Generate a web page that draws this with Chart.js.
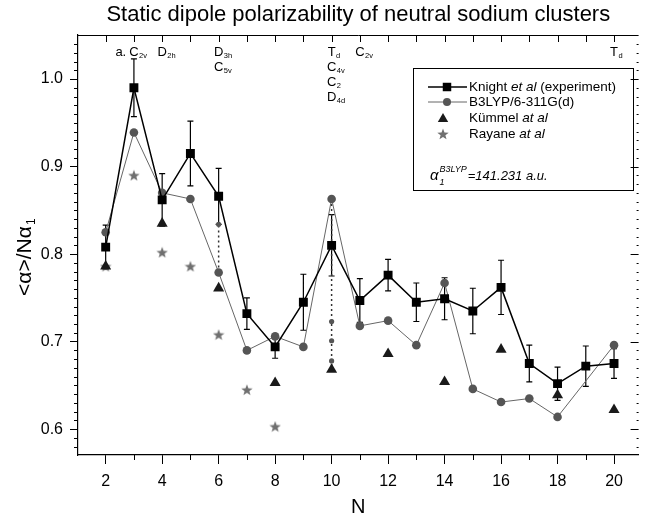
<!DOCTYPE html>
<html>
<head>
<meta charset="utf-8">
<title>Static dipole polarizability of neutral sodium clusters</title>
<script src="https://cdn.jsdelivr.net/npm/chart.js@4.4.1/dist/chart.umd.min.js"></script>
<style>
  html, body { margin: 0; padding: 0; background: #fff; }
</style>
</head>
<body>
<canvas id="polarCtx" width="645" height="520"></canvas>
<script>
// cluster sizes N
const sizes = [2, 3, 4, 5, 6, 7, 8, 9, 10, 11, 12, 13, 14, 15, 16, 17, 18, 19, 20];
// Knight et al (experiment) with error bars
const knight = [0.808, 0.990, 0.862, 0.915, 0.866, 0.732, 0.694, 0.745, 0.810, 0.747,
                0.776, 0.745, 0.749, 0.735, 0.762, 0.675, 0.652, 0.672, 0.675];
const knightErr = [0.025, 0.033, 0.030, 0.037, 0.032, 0.018, 0.013, 0.032, 0.035, 0.025,
                   0.018, 0.022, 0.024, 0.026, 0.031, 0.021, 0.019, 0.023, 0.017];
// B3LYP/6-311G(d), no value for N=19
const b3lyp = [0.825, 0.939, 0.870, 0.863, 0.779, 0.690, 0.706, 0.694, 0.863, 0.718,
               0.724, 0.696, 0.767, 0.646, 0.631, 0.635, 0.614, null, 0.696];
// Kümmel at al
const kummelN = [2, 4, 6, 8, 10, 12, 14, 16, 18, 20];
const kummel = [0.786, 0.835, 0.761, 0.653, 0.668, 0.686, 0.654, 0.691, 0.639, 0.622];
// Rayane at al
const rayaneN = [2, 3, 4, 5, 6, 7, 8];
const rayane = [0.786, 0.890, 0.802, 0.786, 0.708, 0.645, 0.603];
// other isomers (small dots on the dotted lines)
const isomerN = [6, 10, 10, 10];
const isomer = [0.834, 0.723, 0.701, 0.678];
// point group labels at the top
const symN = [3, 4, 6, 10, 11, 20];
const symText = [
    [["C", "2v"]],
    [["D", "2h"]],
    [["D", "3h"], ["C", "5v"]],
    [["T", "d"], ["C", "4v"], ["C", "2"], ["D", "4d"]],
    [["C", "2v"]],
    [["T", "d"]]
];
// tick labels
const xTicks = [2, 4, 6, 8, 10, 12, 14, 16, 18, 20];
const yTicks = [0.6, 0.7, 0.8, 0.9, 1.0];

const FONT = "'Liberation Sans', Arial, Helvetica, sans-serif";
const TITLE = "Static dipole polarizability of neutral sodium clusters";

function pts(xs, ys) {
    return xs.map((n, i) => ({ x: n, y: ys[i] })).filter(p => p.y !== null);
}

// filled grey star used as point style
function makeStar(size, color) {
    const c = document.createElement("canvas");
    c.width = size; c.height = size;
    const g = c.getContext("2d");
    const cx = size / 2, cy = size / 2 + 0.5, ro = size / 2, ri = ro * 0.42;
    g.beginPath();
    for (let k = 0; k < 10; k++) {
        const r = k % 2 ? ri : ro;
        const a = -Math.PI / 2 + k * Math.PI / 5;
        g.lineTo(cx + r * Math.cos(a), cy + r * Math.sin(a));
    }
    g.closePath();
    g.fillStyle = color;
    g.fill();
    return c;
}
const starImg = makeStar(12, "#707070");

/// error bars for the experiment, drawn below the markers
const errorBars = {
    id: "errorBars",
    beforeDatasetsDraw(chart) {
        const { ctx, scales: { x, y } } = chart;
        ctx.save();
        ctx.strokeStyle = "#000";
        ctx.lineWidth = 1.2;
        ctx.beginPath();
        sizes.forEach((n, i) => {
            const px = x.getPixelForValue(n);
            const t = y.getPixelForValue(knight[i] + knightErr[i]);
            const b = y.getPixelForValue(knight[i] - knightErr[i]);
            ctx.moveTo(px, t); ctx.lineTo(px, b);
            ctx.moveTo(px - 3, t); ctx.lineTo(px + 3, t);
            ctx.moveTo(px - 3, b); ctx.lineTo(px + 3, b);
        });
        ctx.stroke();
        ctx.restore();
    }
};

function subText(ctx, x, y, main, sub, mainFont, subFont, drop) {
    ctx.font = mainFont;
    ctx.fillText(main, x, y);
    const w = ctx.measureText(main).width;
    ctx.font = subFont;
    ctx.fillText(sub, x + w + 0.5, y + drop);
}

/// frame: title, y title, top axis, right ticks, minor ticks, point group labels, legend
const decorations = {
    id: "decorations",
    afterDraw(chart) {
        const { ctx, chartArea: a, scales: { x, y } } = chart;
        ctx.save();

        // title, centred over the plot area
        ctx.fillStyle = "#000";
        ctx.textAlign = "center";
        ctx.textBaseline = "middle";
        ctx.font = "22px " + FONT;
        ctx.fillText(TITLE, (a.left + a.right) / 2, 15);

        // y axis title with a real subscript
        ctx.save();
        ctx.translate(24, (a.top + a.bottom) / 2 + 12);
        ctx.rotate(-Math.PI / 2);
        ctx.textAlign = "left";
        ctx.textBaseline = "alphabetic";
        ctx.font = "21px " + FONT;
        const yt = "<α>/Nα";
        const yw = ctx.measureText(yt).width;
        ctx.fillText(yt, -yw / 2 - 4, 7);
        ctx.font = "12px " + FONT;
        ctx.fillText("1", yw / 2 - 3, 11);
        ctx.restore();

        ctx.textAlign = "left";
        ctx.strokeStyle = "#000";
        ctx.lineWidth = 1;
        ctx.beginPath();
        ctx.moveTo(a.left, a.top + 0.5); ctx.lineTo(a.right, a.top + 0.5);
        for (let n = 2; n <= 20; n++) {
            const px = Math.round(x.getPixelForValue(n)) + 0.5;
            ctx.moveTo(px, a.top); ctx.lineTo(px, a.top + 7);
            if (n % 2) { ctx.moveTo(px, a.bottom); ctx.lineTo(px, a.bottom + 5); }
        }
        for (let k = 58; k <= 104; k++) {
            const py = Math.round(y.getPixelForValue(k / 100)) + 0.5;
            const major = k % 10 === 0;
            if (!major) { ctx.moveTo(a.left - 4, py); ctx.lineTo(a.left, py); }
            ctx.moveTo(a.right, py); ctx.lineTo(a.right - (major ? 8 : 2), py);
        }
        ctx.stroke();

        // point group labels
        ctx.fillStyle = "#000";
        ctx.textBaseline = "alphabetic";
        symN.forEach((n, i) => {
            const px = x.getPixelForValue(n);
            symText[i].forEach((lab, r) => {
                const by = 56 + r * 15;
                ctx.font = "13px " + FONT;
                const w = ctx.measureText(lab[0]).width;
                const lx = px - w / 2;
                subText(ctx, lx, by, lab[0], lab[1], "13px " + FONT, "7.5px " + FONT, 2);
                if (i === 0 && r === 0) {
                    ctx.font = "13px " + FONT;
                    ctx.textAlign = "right";
                    ctx.fillText("a.", lx - 3, by);
                    ctx.textAlign = "left";
                }
            });
        });

        // legend
        const bx = 413, bt = 68, bw = 220, bh = 122;
        ctx.lineWidth = 1;
        ctx.strokeRect(bx + 0.5, bt + 0.5, bw, bh);
        const rows = [87, 102, 118, 134];
        const mx = 447, tx = 469;
        const draw = Chart.helpers.drawPoint;
        // Knight
        ctx.strokeStyle = "#000"; ctx.lineWidth = 1.5;
        ctx.beginPath(); ctx.moveTo(428, rows[0]); ctx.lineTo(467, rows[0]); ctx.stroke();
        ctx.fillStyle = "#000";
        draw(ctx, { pointStyle: "rect", radius: 6, borderWidth: 0, rotation: 0 }, mx, rows[0]);
        // B3LYP
        ctx.strokeStyle = "#666"; ctx.lineWidth = 1;
        ctx.beginPath(); ctx.moveTo(428, rows[1]); ctx.lineTo(467, rows[1]); ctx.stroke();
        ctx.fillStyle = "#555";
        draw(ctx, { pointStyle: "circle", radius: 4, borderWidth: 0, rotation: 0 }, mx, rows[1]);
        ctx.fillStyle = "#1a1a1a";
        draw(ctx, { pointStyle: "triangle", radius: 6, borderWidth: 0, rotation: 0 }, mx - 4, rows[2] + 1);
        ctx.drawImage(starImg, mx - 4 - 6, rows[3] - 6);

        const f = "13.5px " + FONT, fi = "italic 13.5px " + FONT;
        const legendText = [
            [["Knight ", f], ["et al", fi], [" (experiment)", f]],
            [["B3LYP/6-311G(d)", f]],
            [["Kümmel ", f], ["at al", fi]],
            [["Rayane ", f], ["at al", fi]]
        ];
        ctx.fillStyle = "#000";
        ctx.textBaseline = "middle";
        legendText.forEach((parts, r) => {
            let cx = tx;
            parts.forEach(([s, font]) => {
                ctx.font = font;
                ctx.fillText(s, cx, rows[r]);
                cx += ctx.measureText(s).width;
            });
        });

        // alpha_1^B3LYP = 141.231 a.u.
        ctx.textBaseline = "alphabetic";
        const fy = 180;
        ctx.font = "italic 15px " + FONT;
        ctx.fillText("α", 430, fy);
        const ax = 430 + ctx.measureText("α").width + 1;
        ctx.font = "italic 9px " + FONT;
        ctx.fillText("1", ax, fy + 5);
        ctx.fillText("B3LYP", ax, fy - 8);
        const sx = ax + ctx.measureText("B3LYP").width + 1;
        ctx.font = "italic 13px " + FONT;
        ctx.fillText("=141.231 a.u.", sx, fy);
        ctx.restore();
    }
};

const polarChart = new Chart(document.getElementById("polarCtx"), {
    type: "scatter",
    data: {
        datasets: [
            {
                label: "Knight et al (experiment)",
                data: pts(sizes, knight),
                showLine: true,
                borderColor: "#000",
                borderWidth: 1.5,
                backgroundColor: "#000",
                pointStyle: "rect",
                pointRadius: 6.3,
                pointBorderWidth: 0
            },
            {
                label: "B3LYP/6-311G(d)",
                data: pts(sizes, b3lyp),
                showLine: true,
                borderColor: "#666",
                borderWidth: 1,
                backgroundColor: "#555",
                pointStyle: "circle",
                pointRadius: 4.3,
                pointBorderWidth: 0
            },
            {
                label: "Kümmel at al",
                data: pts(kummelN, kummel),
                backgroundColor: "#1a1a1a",
                pointStyle: "triangle",
                pointRadius: 6.4,
                pointBorderWidth: 0
            },
            {
                label: "Rayane at al",
                data: pts(rayaneN, rayane),
                pointStyle: starImg
            },
            {
                label: "isomers",
                data: pts(isomerN, isomer),
                backgroundColor: "#555",
                pointStyle: "circle",
                pointRadius: 2.6,
                pointBorderWidth: 0
            },
            {
                label: "isomer line 6",
                data: [{ x: 6, y: b3lyp[4] }, { x: 6, y: isomer[0] }],
                showLine: true,
                borderColor: "#333",
                borderWidth: 1.5,
                borderDash: [2, 3],
                pointRadius: 0
            },
            {
                label: "isomer line 10",
                data: [{ x: 10, y: b3lyp[8] }, { x: 10, y: kummel[4] }],
                showLine: true,
                borderColor: "#333",
                borderWidth: 1.5,
                borderDash: [2, 3],
                pointRadius: 0
            }
        ]
    },
    options: {
        responsive: false,
        devicePixelRatio: 1,
        animation: false,
        layout: { padding: { right: 1, left: 0, top: 35, bottom: 0 } },
        plugins: {
            legend: { display: false },
            tooltip: { enabled: false },
            title: { display: false }
        },
        scales: {
            x: {
                type: "linear",
                min: 1.02,
                max: 20.87,
                afterFit: s => { s.height = 65; },
                afterBuildTicks: s => { s.ticks = xTicks.map(v => ({ value: v })); },
                grid: { drawOnChartArea: false, color: "#000", tickLength: 9, lineWidth: 1 },
                border: { color: "#000", width: 1.2 },
                ticks: {
                    color: "#000",
                    padding: 8,
                    maxRotation: 0,
                    font: { family: FONT, size: 16 },
                    callback: v => String(v)
                },
                title: {
                    display: true,
                    text: "N",
                    color: "#000",
                    font: { family: FONT, size: 20 },
                    padding: { top: 0, bottom: 1 }
                }
            },
            y: {
                type: "linear",
                min: 0.5705,
                max: 1.0503,
                afterFit: s => { s.width = 78; },
                afterBuildTicks: s => { s.ticks = yTicks.map(v => ({ value: v })); },
                grid: { drawOnChartArea: false, color: "#000", tickLength: 8, lineWidth: 1 },
                border: { color: "#000", width: 1.2 },
                ticks: {
                    color: "#000",
                    padding: 7,
                    font: { family: FONT, size: 16 },
                    callback: v => Number(v).toFixed(1)
                }
            }
        }
    },
    plugins: [errorBars, decorations]
});
</script>
</body>
</html>
